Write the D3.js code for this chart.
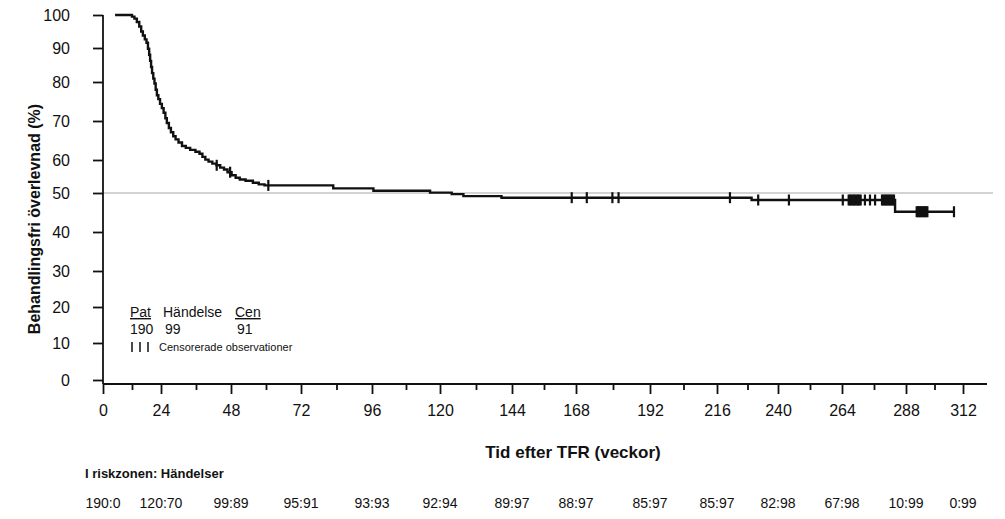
<!DOCTYPE html>
<html>
<head>
<meta charset="utf-8">
<script src="https://cdn.jsdelivr.net/npm/d3@7"></script>
<style>
body { margin: 0; background: #fff; }
text { font-family: "Liberation Sans", Arial, sans-serif; fill: #111; }
</style>
</head>
<body>
<script>

// tick labels
var weekTicks = [0, 24, 48, 72, 96, 120, 144, 168, 192, 216, 240, 264, 288, 312];
var minorTicks = [12, 36, 60, 84, 108, 132, 156, 180, 204, 228, 252, 276, 300];
var pctTicks = [0, 10, 20, 30, 40, 50, 60, 70, 80, 90, 100];

// KM curve: week of each step and survival (%) after it
var kmTimes = [5, 12, 13, 14, 15, 15.8, 16.5, 17.3, 18, 18.6, 19.1, 19.5, 19.9, 20.3, 20.8,
    21.3, 21.8, 22.3, 22.9, 23.6, 24.3, 24.9, 25.5, 26, 26.7, 27.4, 28.2, 29, 30, 31.2,
    32.5, 34, 35.8, 37.2, 38.2, 39.2, 40.3, 41.6, 43, 44.3, 45.6, 46.8, 48.2, 49.6, 51,
    53, 55.5, 57.5, 59.5, 82.9, 96.5, 116.5, 123.9, 127.8, 140.5, 229.6, 283.9];
var kmSurv = [100, 99.5, 98.9, 97.9, 96.5, 95, 93.8, 92.6, 91.6, 89.8, 88, 86.2, 84.4, 82.6, 81,
    79.6, 78, 76.6, 75.6, 74.4, 73.3, 72.1, 70.7, 69.5, 68.2, 67.1, 66.1, 65.3, 64.5, 63.6,
    63.1, 62.6, 62.1, 61.6, 60.8, 60.1, 59.5, 58.9, 58.4, 57.7, 57.1, 56.3, 55.4, 54.6, 54.1,
    53.7, 53.1, 52.6, 52.3, 51.4, 50.7, 50.1, 49.7, 49.2, 48.8, 48.2, 45.2];
var lastWeek = 308.2;

// censored observations (weeks)
var censorTimes = [43.1, 47.7, 60.8, 166.4, 171.5, 179.8, 181.8, 221.1, 232.2, 244.1, 264.3,
    266.5, 267, 267.5, 268, 268.5, 269, 269.5, 270, 270.5, 271,
    272.6, 274.5, 276.4,
    279, 279.5, 280, 280.5, 281, 281.5, 282, 282.5, 283, 283.5,
    292.5, 293, 293.5, 294, 294.5, 295, 295.5, 296, 296.5, 297,
    308.2];

// at risk : events, one per major tick
var riskLabels = ['190:0', '120:70', '99:89', '95:91', '93:93', '92:94', '89:97', '88:97',
    '85:97', '85:97', '82:98', '67:98', '10:99', '0:99'];

var legendHead = ['Pat', 'Händelse', 'Cen'];
var legendCounts = ['190', '99', '91'];


var svg = d3.select('body').append('svg')
    .attr('width', 1005)
    .attr('height', 519);

// the printed ticks are not evenly spaced, so anchor every tick
var x = d3.scaleLinear()
    .domain(weekTicks)
    .range([103, 161, 231, 301, 372, 440, 512, 576, 650, 717, 778, 842, 906, 963]);
var y = d3.scaleLinear()
    .domain(pctTicks)
    .range([380, 343, 307, 271, 232, 193, 160, 121, 82, 48, 15]);

var axisY = 384;

// 50% reference line
svg.append('line')
    .attr('x1', x(0)).attr('x2', 993)
    .attr('y1', y(50)).attr('y2', y(50))
    .attr('stroke', '#c4c4c4')
    .attr('stroke-width', 1.5);

// x axis
var xAxis = svg.append('g')
    .attr('transform', 'translate(0,' + axisY + ')')
    .call(d3.axisBottom(x).tickValues(weekTicks).tickSize(10).tickPadding(11));
xAxis.select('.domain').remove();
xAxis.selectAll('line').attr('stroke', '#111').attr('stroke-width', 1.8);
xAxis.selectAll('text').style('font-size', '16px').attr('fill', '#111');

var xMinor = svg.append('g')
    .attr('transform', 'translate(0,' + axisY + ')')
    .call(d3.axisBottom(x).tickValues(minorTicks).tickSize(6).tickFormat(''));
xMinor.select('.domain').remove();
xMinor.selectAll('line').attr('stroke', '#111').attr('stroke-width', 1.8);

svg.append('line')
    .attr('x1', x(0)).attr('x2', 987)
    .attr('y1', axisY).attr('y2', axisY)
    .attr('stroke', '#111').attr('stroke-width', 1.8);

// y axis
var yAxis = svg.append('g')
    .attr('transform', 'translate(' + x(0) + ',0)')
    .call(d3.axisLeft(y).tickValues(pctTicks).tickSize(10).tickPadding(23));
yAxis.select('.domain').remove();
yAxis.selectAll('line').attr('stroke', '#111').attr('stroke-width', 1.8);
yAxis.selectAll('text').style('font-size', '16px').attr('fill', '#111');

svg.append('line')
    .attr('x1', x(0)).attr('x2', x(0))
    .attr('y1', y(100)).attr('y2', axisY)
    .attr('stroke', '#111').attr('stroke-width', 1.8);

// KM curve
var pts = kmTimes.map(function(t, i) { return [t, kmSurv[i]]; });
pts.push([lastWeek, kmSurv[kmSurv.length - 1]]);

var line = d3.line()
    .x(function(d) { return x(d[0]); })
    .y(function(d) { return y(d[1]); })
    .curve(d3.curveStepAfter);

svg.append('path')
    .datum(pts)
    .attr('d', line)
    .attr('fill', 'none')
    .attr('stroke', '#111')
    .attr('stroke-width', 2.4);

function survAt(t) {
    var i = d3.bisectRight(kmTimes, t) - 1;
    return kmSurv[Math.max(i, 0)];
}

svg.selectAll('.cens')
    .data(censorTimes)
    .enter().append('line')
    .attr('class', 'cens')
    .attr('x1', function(d) { return x(d); })
    .attr('x2', function(d) { return x(d); })
    .attr('y1', function(d) { return y(survAt(d)) - 5.5; })
    .attr('y2', function(d) { return y(survAt(d)) + 5.5; })
    .attr('stroke', '#111')
    .attr('stroke-width', 2.2);

// legend box
var legX = [130, 163, 235];
svg.selectAll('.lhead')
    .data(legendHead)
    .enter().append('text')
    .attr('class', 'lhead')
    .attr('x', function(d, i) { return legX[i]; })
    .attr('y', 317)
    .style('font-size', '14px')
    .style('text-decoration', function(d, i) { return i == 1 ? 'none' : 'underline'; })
    .text(function(d) { return d; });

svg.selectAll('.lcount')
    .data(legendCounts)
    .enter().append('text')
    .attr('class', 'lcount')
    .attr('x', function(d, i) { return legX[i] + (i == 0 ? 0 : 2); })
    .attr('y', 334)
    .style('font-size', '14px')
    .text(function(d) { return d; });

[132, 140, 148].forEach(function(px) {
    svg.append('line')
        .attr('x1', px).attr('x2', px)
        .attr('y1', 342).attr('y2', 352)
        .attr('stroke', '#111').attr('stroke-width', 1.5);
});
svg.append('text')
    .attr('x', 159).attr('y', 351)
    .style('font-size', '11px')
    .text('Censorerade observationer');

// axis titles
svg.append('text')
    .attr('transform', 'translate(40,219) rotate(-90)')
    .attr('text-anchor', 'middle')
    .style('font-size', '16px')
    .style('font-weight', 'bold')
    .text('Behandlingsfri överlevnad (%)');

svg.append('text')
    .attr('x', 573).attr('y', 458)
    .attr('text-anchor', 'middle')
    .style('font-size', '17px')
    .style('font-weight', 'bold')
    .text('Tid efter TFR (veckor)');

// number at risk
svg.append('text')
    .attr('x', 85).attr('y', 478)
    .style('font-size', '13px')
    .style('font-weight', 'bold')
    .text('I riskzonen: Händelser');

svg.selectAll('.risk')
    .data(riskLabels)
    .enter().append('text')
    .attr('class', 'risk')
    .attr('x', function(d, i) { return x(weekTicks[i]); })
    .attr('y', 508)
    .attr('text-anchor', 'middle')
    .style('font-size', '14px')
    .text(function(d) { return d; });

</script>
</body>
</html>
